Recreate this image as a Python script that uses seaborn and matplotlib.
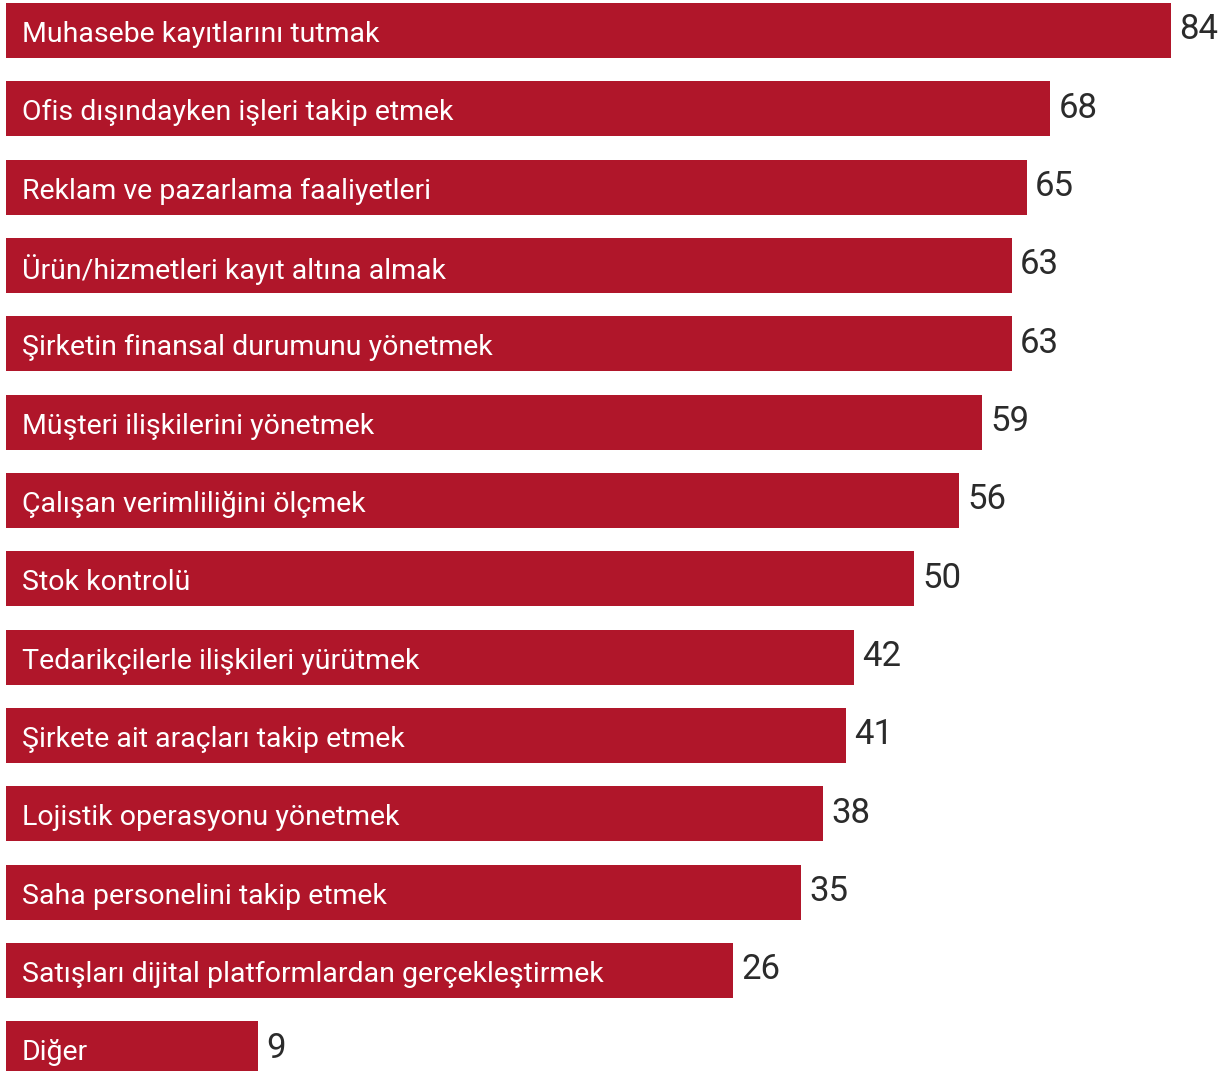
import matplotlib
matplotlib.use("Agg")
import matplotlib.pyplot as plt
import seaborn as sns

# --- Data ---
labels = [
    "Muhasebe kayıtlarını tutmak",
    "Ofis dışındayken işleri takip etmek",
    "Reklam ve pazarlama faaliyetleri",
    "Ürün/hizmetleri kayıt altına almak",
    "Şirketin finansal durumunu yönetmek",
    "Müşteri ilişkilerini yönetmek",
    "Çalışan verimliliğini ölçmek",
    "Stok kontrolü",
    "Tedarikçilerle ilişkileri yürütmek",
    "Şirkete ait araçları takip etmek",
    "Lojistik operasyonu yönetmek",
    "Saha personelini takip etmek",
    "Satışları dijital platformlardan gerçekleştirmek",
    "Diğer",
]
values = [84, 68, 65, 63, 63, 59, 56, 50, 42, 41, 38, 35, 26, 9]
# drawn bar lengths (bars carry room for the label)
bar_len = [155.3, 139.2, 136.1, 134.1, 134.1, 130.1, 127.1, 121.1,
           113.1, 112.0, 108.9, 106.0, 96.9, 33.6]

RED = "#B0162A"
TEXT = "#2b2b2b"

sns.set_theme(style="white")
plt.rcParams["font.family"] = ["Roboto", "DejaVu Sans"]

fig = plt.figure(figsize=(12.31, 10.71), dpi=100)
ax = fig.add_axes([0, 0, 1, 1])

sns.barplot(x=bar_len, y=labels, orient="h", color=RED, saturation=1,
            width=0.702, linewidth=0, ax=ax)

for i, (lab, val, ln) in enumerate(zip(labels, values, bar_len)):
    ax.text(2.13, i + 0.05, lab, color="white", fontsize=20.5,
            va="center", ha="left")
    ax.text(ln + 1.1, i - 0.01, str(val), color=TEXT, fontsize=25,
            va="center", ha="left")

ax.set_xlim(-0.8, 163.33)
ax.set_ylim(13.283, -0.389)
ax.axis("off")

fig.savefig("out.png", dpi=100)
